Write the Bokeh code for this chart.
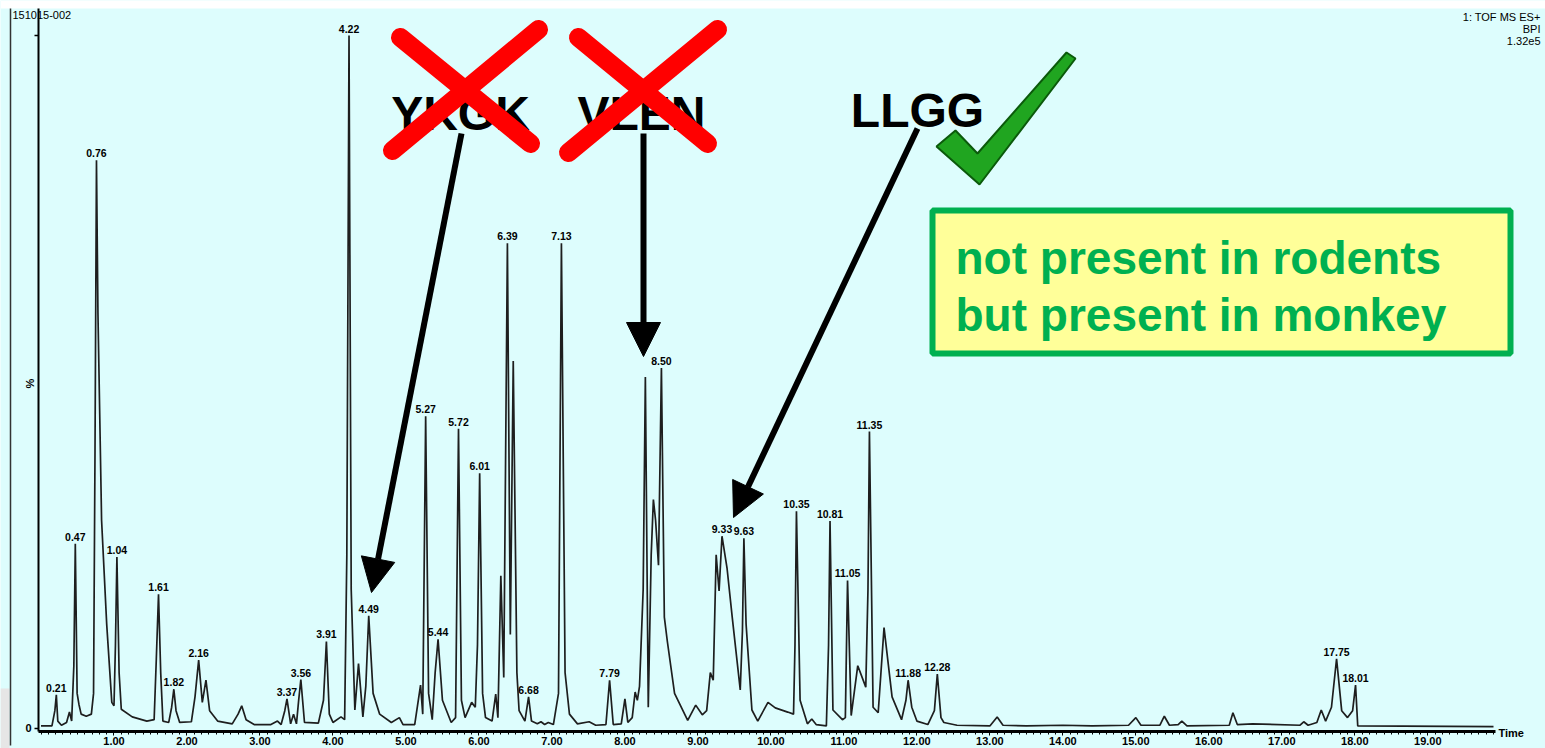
import math
from bokeh.plotting import figure
from bokeh.models import (Range1d, FixedTicker, PrintfTickFormatter, Arrow, NormalHead)
from bokeh.core.properties import value
from bokeh.embed import file_html
from bokeh.resources import INLINE

# ---------------- data ----------------
trace_t = [0.00, 0.15, 0.19, 0.21, 0.23, 0.28, 0.35, 0.39, 0.42, 0.45, 0.47, 0.495, 0.52, 0.55, 0.62,
           0.69, 0.72, 0.74, 0.76, 0.78, 0.83, 0.90, 0.97, 1.00, 1.02, 1.04, 1.07, 1.10, 1.25, 1.45,
           1.55, 1.58, 1.61, 1.64, 1.67, 1.75, 1.79, 1.82, 1.85, 1.90, 2.06, 2.11, 2.16, 2.21, 2.26,
           2.31, 2.42, 2.62, 2.70, 2.75, 2.81, 2.92, 3.15, 3.24, 3.29, 3.34, 3.37, 3.42, 3.46, 3.50,
           3.53, 3.56, 3.61, 3.80, 3.87, 3.91, 3.95, 4.00, 4.11, 4.16, 4.19, 4.22, 4.25, 4.30, 4.35,
           4.41, 4.45, 4.49, 4.55, 4.64, 4.80, 4.91, 4.96, 5.12, 5.20, 5.23, 5.27, 5.31, 5.36, 5.40,
           5.44, 5.50, 5.62, 5.68, 5.72, 5.76, 5.81, 5.90, 5.95, 5.98, 6.01, 6.05, 6.09, 6.18, 6.23,
           6.26, 6.30, 6.34, 6.39, 6.43, 6.47, 6.52, 6.55, 6.63, 6.68, 6.72, 6.80, 6.85, 6.90, 6.95,
           7.02, 7.09, 7.13, 7.18, 7.24, 7.35, 7.51, 7.60, 7.74, 7.79, 7.84, 7.95, 8.00, 8.04, 8.10,
           8.14, 8.17, 8.20, 8.25, 8.28, 8.32, 8.36, 8.39, 8.42, 8.46, 8.50, 8.54, 8.58, 8.68, 8.86,
           8.97, 9.06, 9.12, 9.17, 9.21, 9.25, 9.29, 9.33, 9.40, 9.47, 9.58, 9.61, 9.63, 9.66, 9.74,
           9.82, 9.96, 10.06, 10.23, 10.31, 10.33, 10.35, 10.40, 10.50, 10.56, 10.62, 10.76, 10.79,
           10.81, 10.85, 10.98, 11.02, 11.05, 11.10, 11.19, 11.30, 11.33, 11.35, 11.40, 11.47, 11.55,
           11.66, 11.79, 11.85, 11.88, 11.93, 12.00, 12.15, 12.24, 12.28, 12.33, 12.37, 12.55, 13.00,
           13.10, 13.18, 13.50, 14.00, 14.40, 14.90, 15.00, 15.07, 15.33, 15.39, 15.46, 15.58, 15.63,
           15.70, 16.28, 16.33, 16.39, 16.60, 17.25, 17.30, 17.36, 17.48, 17.54, 17.60, 17.68, 17.75,
           17.82, 17.90, 17.97, 18.01, 18.04, 19.90]
trace_pct = [0.3, 0.3, 2.5, 4.8, 1.0, 0.4, 0.8, 2.3, 1.0, 9.0, 26.6, 5.0, 3.4, 2.0, 1.7,
             2.0, 5.0, 40.0, 82.0, 60.0, 30.0, 15.0, 3.7, 3.2, 12.0, 24.7, 8.0, 2.7, 1.6, 1.0,
             1.2, 10.0, 19.3, 8.0, 1.0, 0.8, 3.0, 5.6, 2.5, 0.8, 0.9, 4.5, 9.8, 3.7, 6.9,
             2.5, 1.0, 0.6, 2.0, 3.2, 1.2, 0.5, 0.5, 1.0, 0.5, 2.5, 4.2, 0.6, 2.0, 0.6,
             4.0, 7.0, 0.8, 0.7, 4.0, 12.5, 2.0, 0.8, 1.6, 1.2, 25.0, 100.0, 20.0, 2.6, 9.3,
             1.6, 6.0, 16.2, 5.0, 2.0, 0.8, 1.5, 0.5, 0.5, 6.2, 2.0, 45.0, 5.0, 1.2, 8.0,
             12.8, 4.0, 0.8, 1.5, 43.2, 4.0, 1.5, 3.7, 3.0, 12.0, 36.8, 5.0, 1.5, 1.0, 4.9,
             1.5, 22.0, 7.3, 70.0, 13.5, 53.0, 8.0, 2.5, 1.0, 4.5, 1.0, 0.6, 0.9, 0.5, 0.8,
             0.5, 5.0, 70.0, 8.0, 2.0, 0.6, 0.9, 0.4, 0.5, 6.9, 0.5, 0.6, 4.2, 0.8, 1.5,
             5.2, 4.0, 6.0, 20.0, 50.7, 3.0, 25.0, 33.0, 30.0, 23.5, 52.0, 16.0, 12.6, 5.0, 1.1,
             3.3, 1.9, 2.5, 8.0, 6.9, 25.0, 19.8, 27.7, 23.0, 16.0, 5.5, 14.0, 27.4, 15.0, 2.6,
             1.0, 3.7, 2.9, 2.3, 2.0, 12.0, 31.3, 4.0, 0.6, 1.3, 0.5, 0.3, 12.0,
             29.9, 2.6, 1.2, 1.5, 21.3, 1.8, 9.0, 5.9, 20.0, 42.8, 3.0, 2.2, 14.5,
             4.5, 1.2, 4.0, 6.9, 3.0, 1.0, 0.5, 2.5, 7.8, 1.5, 0.8, 0.4, 0.3,
             1.6, 0.4, 0.3, 0.4, 0.3, 0.4, 1.5, 0.4, 0.4, 1.7, 0.4, 0.5, 1.0,
             0.3, 0.4, 2.2, 0.5, 0.6, 0.4, 0.9, 0.4, 0.8, 2.6, 1.0, 3.0, 10.0,
             2.5, 1.5, 2.5, 6.2, 0.3, 0.2]

peak_rt = [0.21, 0.47, 0.76, 1.04, 1.61, 1.82, 2.16, 3.37, 3.56, 3.91, 4.22, 4.49, 5.27, 5.44,
           5.72, 6.01, 6.39, 6.68, 7.13, 7.79, 8.50, 9.33, 9.63, 10.35, 10.81, 11.05, 11.35,
           11.88, 12.28, 17.75, 18.01]
peak_pct = [4.8, 26.6, 82.0, 24.7, 19.3, 5.6, 9.8, 4.2, 7.0, 12.5, 100.0, 16.2, 45.0, 12.8,
            43.2, 36.8, 70.0, 4.5, 70.0, 6.9, 52.0, 27.7, 27.4, 31.3, 29.9, 21.3, 42.8,
            6.9, 7.8, 10.0, 6.2]
peak_text = ["%.2f" % r for r in peak_rt]

x_major_ticks = [1, 2, 3, 4, 5, 6, 7, 8, 9, 10, 11, 12, 13, 14, 15, 16, 17, 18, 19]
x_minor_step = 0.1
y_ticks = [0, 100]
header_left = "151015-002"
header_right = ["1: TOF MS ES+", "BPI", "1.32e5"]
x_title = "Time"
y_title = "%"
crossed = ["YKGK", "VLEN"]
kept = "LLGG"
box_lines = ["not present in rodents", "but present in monkey"]

# ---------------- geometry helpers (page pixels -> data) ----------------
T0_PX = 40.5                     # page x of t = 0 (fit of the tick labels)
PX_PER_MIN = 72.99
PAGE_W, PAGE_H = 1545, 748
STRIP = 8.0                      # white strip at the top of the screenshot
YAX_PX = 38.0                    # page x of the intensity axis
XEND_PX = 1495.0                 # page x where the time axis ends
AXIS_PY = 731.0                  # page y of the time axis line
BASE_PY, TOP_PY = 727.5, 35.0    # page y of 0 % and 100 %
SC = (BASE_PY - TOP_PY) / 100.0


def tx(px):
    return (px - T0_PX) / PX_PER_MIN


def ty(py):
    return (BASE_PY - py) / SC


BG = "#DDFDFD"
FONT = "Liberation Sans"
INK = "black"

p = figure(width=PAGE_W, height=PAGE_H, x_range=Range1d(tx(0), tx(PAGE_W)),
           y_range=Range1d(ty(PAGE_H), ty(0)),
           output_backend="svg", toolbar_location=None,
           min_border_left=0, min_border_right=0, min_border_top=0, min_border_bottom=0)
p.background_fill_color = BG
p.border_fill_color = BG
p.outline_line_color = None
p.xgrid.visible = False
p.ygrid.visible = False

# white strip at the top and grey corner of the screenshot
p.quad(left=[tx(0)], right=[tx(PAGE_W)], top=[ty(0)], bottom=[ty(STRIP)],
       fill_color="white", line_color=None)
p.quad(left=[tx(0)], right=[tx(9)], top=[ty(688)], bottom=[ty(PAGE_H)],
       fill_color="#E6E6E6", line_color=None)
p.segment(x0=[tx(10)], y0=[ty(745)], x1=[tx(10)], y1=[ty(STRIP)], line_color="#333333",
          line_width=1.5)

# time axis, drawn at the bottom of the trace
x_lo, x_hi = tx(YAX_PX), tx(XEND_PX)
xa = p.xaxis[0]
xa.fixed_location = ty(AXIS_PY)
xa.bounds = (x_lo, x_hi)
xa.ticker = FixedTicker(ticks=x_major_ticks,
                        minor_ticks=[i * x_minor_step for i in range(0, int(x_hi / x_minor_step) + 1)])
xa.formatter = PrintfTickFormatter(format="%.2f")
xa.axis_line_color = INK
xa.axis_line_width = 3
xa.major_tick_out = 4
xa.major_tick_in = 0
xa.major_tick_line_width = 1
xa.minor_tick_out = 3
xa.minor_tick_in = 0
xa.minor_tick_line_width = 1
xa.major_label_standoff = 1
xa.major_label_text_font = FONT
xa.major_label_text_font_size = "11px"
xa.major_label_text_font_style = "bold"
xa.major_label_text_color = INK

# intensity axis
ya = p.yaxis[0]
ya.fixed_location = x_lo
ya.bounds = (ty(AXIS_PY), ty(STRIP))
ya.ticker = FixedTicker(ticks=y_ticks, minor_ticks=[])
ya.major_label_overrides = {100: ""}
ya.axis_line_color = INK
ya.axis_line_width = 2
ya.major_tick_out = 4
ya.major_tick_in = 0
ya.major_tick_line_width = 1.5
ya.major_label_standoff = 3
ya.major_label_text_font = FONT
ya.major_label_text_font_size = "11px"
ya.major_label_text_font_style = "bold"
ya.major_label_text_color = INK

p.text(x=[tx(29)], y=[ty(383)], text=[y_title], angle=math.pi / 2, text_align="center",
       text_baseline="middle", text_font=value(FONT), text_font_size="11px",
       text_font_style="bold", text_color=INK)
p.text(x=[tx(1498)], y=[ty(732)], text=[x_title], text_align="left",
       text_baseline="middle", text_font=value(FONT), text_font_size="11px",
       text_font_style="bold", text_color=INK)

# chromatogram trace
p.line(trace_t, trace_pct, line_color="#1e1e1e", line_width=1.7)

# peak labels
p.text(x=peak_rt, y=peak_pct, text=peak_text, text_align="center", text_baseline="bottom",
       y_offset=-3, text_font=value(FONT), text_font_size="10.5px", text_font_style="bold",
       text_color=INK)

# header texts
p.text(x=[tx(12)], y=[ty(14)], text=[header_left], text_align="left", text_baseline="middle",
       text_font=value(FONT), text_font_size="11px", text_color=INK)
p.text(x=[tx(1540)] * 3, y=[ty(16), ty(28), ty(40)], text=header_right, text_align="right",
       text_baseline="middle", text_font=value(FONT), text_font_size="11px", text_color=INK)

# big peptide names
p.text(x=[tx(460), tx(641), tx(917)], y=[ty(113), ty(113), ty(110)],
       text=crossed + [kept], text_align="center", text_baseline="alphabetic",
       text_font=value(FONT), text_font_style="bold", text_font_size="48px", text_color=INK)

# arrows
for (x0, y0, x1, y1) in [(461, 133, 371, 592), (643, 133, 643, 356), (917, 128, 733, 517)]:
    p.add_layout(Arrow(end=NormalHead(size=34, fill_color=INK, line_color=INK),
                       x_start=tx(x0), y_start=ty(y0), x_end=tx(x1), y_end=ty(y1),
                       line_width=6, line_color=INK))

# red crosses
segs = [(400, 37, 530, 143), (538, 29, 392, 150), (578, 37, 707, 143), (717, 29, 568, 152)]
p.segment(x0=[tx(s[0]) for s in segs], y0=[ty(s[1]) for s in segs],
          x1=[tx(s[2]) for s in segs], y1=[ty(s[3]) for s in segs],
          line_color="#FF0000", line_width=19, line_cap="round")

# green tick mark
chk = [(936, 146), (955, 130), (977, 153), (1066, 52), (1075, 58), (979, 184)]
p.patch([tx(a) for a, b in chk], [ty(b) for a, b in chk], fill_color="#20A520",
        line_color="#0B5A0B", line_width=2)

# green framed note
p.quad(left=[tx(932)], right=[tx(1510)], top=[ty(210)], bottom=[ty(353)],
       fill_color="#FFFF99", line_color="#00B050", line_width=6)
p.text(x=[tx(955), tx(955)], y=[ty(257), ty(314)], text=box_lines, text_align="left",
       text_baseline="middle", text_font=value(FONT), text_font_style="bold",
       text_font_size="46px", text_color="#00B050")

open("out.html", "w").write(file_html(p, INLINE))
